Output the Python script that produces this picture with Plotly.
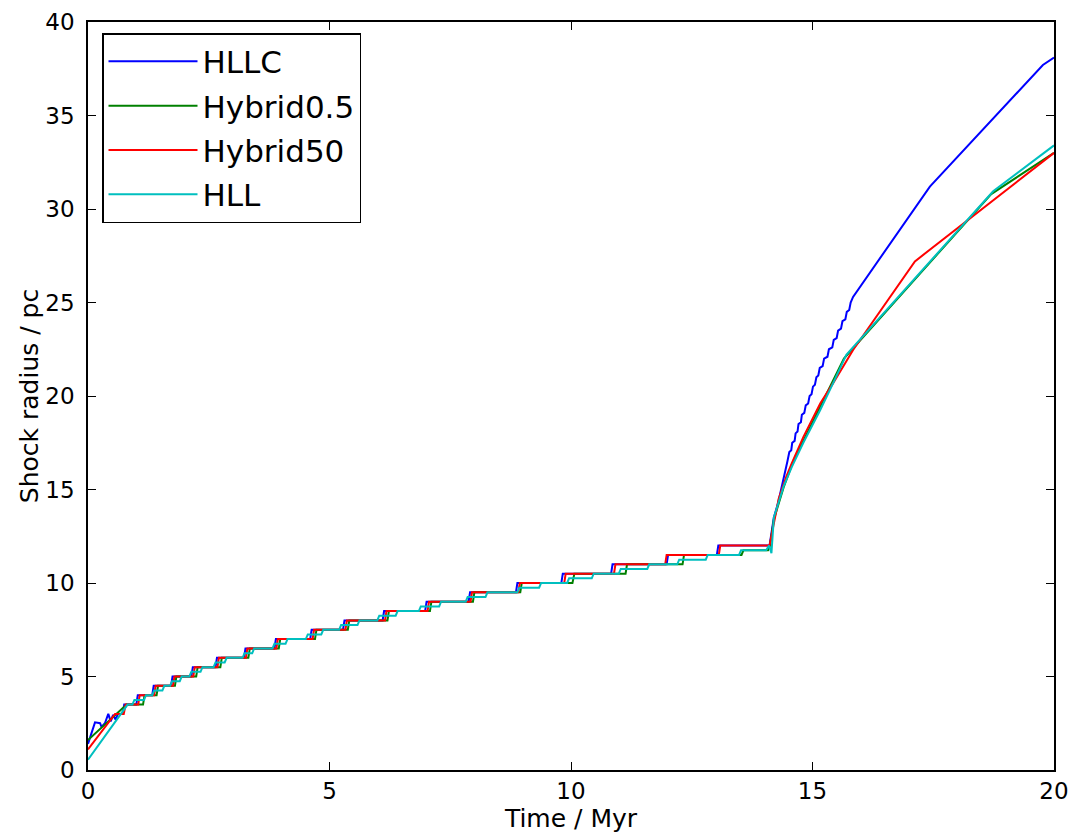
import plotly.graph_objects as go

# ---------------- data (vertices) ----------------
hllc_t = [0.0, 0.145, 0.25, 0.28, 0.35, 0.42, 0.47, 0.52, 0.57, 0.62, 0.72, 0.75,
          1.00, 1.03, 1.33, 1.36, 1.72, 1.75, 2.14, 2.17, 2.64, 2.67, 3.23, 3.26,
          3.86, 3.89, 4.60, 4.63, 5.28, 5.31, 6.10, 6.13, 6.98, 7.01, 7.88, 7.91,
          8.86, 8.89, 9.80, 9.83, 10.83, 10.86, 11.98, 12.01, 13.02, 13.05,
          14.11, 14.20, 14.29, 14.40, 14.44, 14.48, 14.52, 14.56, 14.58, 14.63,
          14.65, 14.69, 14.71, 14.76, 14.78, 14.83, 14.86, 14.91, 14.94, 14.98,
          15.01, 15.05, 15.08, 15.12, 15.15, 15.21, 15.24, 15.31, 15.34, 15.41,
          15.44, 15.50, 15.53, 15.59, 15.62, 15.68, 15.71, 15.76, 15.79, 15.84,
          17.43, 19.77, 20.0]
hllc_r = [1.4, 2.55, 2.5, 2.3, 2.5, 3.0, 2.6, 2.95, 2.7, 3.0, 3.0, 3.5,
          3.5, 4.0, 4.0, 4.5, 4.5, 5.0, 5.0, 5.5, 5.5, 6.0, 6.0, 6.5,
          6.5, 7.0, 7.0, 7.5, 7.5, 8.0, 8.0, 8.5, 8.5, 9.0, 9.0, 9.5,
          9.5, 10.0, 10.0, 10.5, 10.5, 11.0, 11.0, 11.5, 11.5, 12.0,
          12.0, 13.5, 14.3, 15.5, 16.0, 16.5, 17.0, 17.1, 17.5, 17.6,
          18.0, 18.1, 18.5, 18.6, 19.0, 19.1, 19.5, 19.6, 20.0, 20.1,
          20.5, 20.6, 21.0, 21.1, 21.5, 21.6, 22.0, 22.1, 22.5, 22.6,
          23.0, 23.1, 23.5, 23.6, 24.0, 24.1, 24.5, 24.6, 25.0, 25.3,
          31.2, 37.7, 38.1]

hyb05_t = [0.0, 0.80, 1.14, 1.17, 1.42, 1.45, 1.80, 1.83, 2.24, 2.27, 2.74, 2.77,
           3.32, 3.35, 3.95, 3.98, 4.70, 4.73, 5.38, 5.41, 6.20, 6.23, 7.08, 7.11,
           7.97, 8.00, 8.95, 8.98, 10.03, 10.07, 11.13, 11.16, 12.31, 12.34,
           13.53, 13.57, 14.08, 14.12, 14.20, 14.40, 14.60, 14.85, 15.16, 15.43,
           15.65, 18.70, 20.0]
hyb05_r = [1.6, 3.5, 3.5, 4.0, 4.0, 4.5, 4.5, 5.0, 5.0, 5.5, 5.5, 6.0,
           6.0, 6.5, 6.5, 7.0, 7.0, 7.5, 7.5, 8.0, 8.0, 8.5, 8.5, 9.0,
           9.0, 9.5, 9.5, 10.0, 10.0, 10.5, 10.5, 11.0, 11.0, 11.5,
           11.5, 11.75, 11.75, 12.0, 13.4, 15.1, 16.5, 17.8, 19.4, 20.8,
           22.0, 30.8, 33.0]

hyb50_t = [0.0, 0.56, 0.74, 0.78, 1.04, 1.07, 1.37, 1.40, 1.76, 1.79, 2.18, 2.21,
           2.68, 2.71, 3.27, 3.30, 3.90, 3.93, 4.65, 4.68, 5.33, 5.36, 6.15, 6.18,
           7.03, 7.06, 7.92, 7.95, 8.91, 8.94, 9.86, 9.89, 10.89, 10.92,
           11.95, 11.98, 13.06, 13.09, 14.11, 14.19, 14.30, 14.46, 14.57, 14.81,
           15.16, 15.43, 15.84, 17.12, 20.0]
hyb50_r = [1.1, 3.0, 3.0, 3.5, 3.5, 4.0, 4.0, 4.5, 4.5, 5.0, 5.0, 5.5,
           5.5, 6.0, 6.0, 6.5, 6.5, 7.0, 7.0, 7.5, 7.5, 8.0, 8.0, 8.5,
           8.5, 9.0, 9.0, 9.5, 9.5, 10.0, 10.0, 10.5, 10.5, 11.0,
           11.0, 11.5, 11.5, 12.0, 12.0, 13.0, 14.5, 15.7, 16.4, 17.8,
           19.6, 20.7, 22.46, 27.2, 33.0]

hll_t = [0.0, 0.82, 0.92, 0.96, 1.16, 1.20, 1.33, 1.37, 1.54, 1.58, 1.70, 1.74,
         1.90, 1.94, 2.10, 2.14, 2.33, 2.37, 2.60, 2.64, 2.83, 2.87, 3.20, 3.24,
         3.40, 3.44, 3.82, 3.86, 4.09, 4.13, 4.51, 4.55, 4.83, 4.87, 5.20, 5.24,
         5.58, 5.62, 5.99, 6.03, 6.37, 6.41, 6.85, 6.89, 7.27, 7.31, 7.82, 7.86,
         8.23, 8.27, 8.89, 8.93, 9.34, 9.38, 9.92, 9.96, 10.43, 10.47, 10.99, 11.03,
         11.58, 11.62, 12.20, 12.24, 12.79, 12.83, 13.48, 13.52, 14.04, 14.10,
         14.15, 14.20, 14.40, 14.57, 14.81, 15.16, 15.43, 15.70, 18.74, 20.0]
hll_r = [0.55, 3.5, 3.5, 3.75, 3.75, 4.0, 4.0, 4.25, 4.25, 4.5, 4.5, 4.75,
         4.75, 5.0, 5.0, 5.25, 5.25, 5.5, 5.5, 5.75, 5.75, 6.0, 6.0, 6.25,
         6.25, 6.5, 6.5, 6.75, 6.75, 7.0, 7.0, 7.25, 7.25, 7.5, 7.5, 7.75,
         7.75, 8.0, 8.0, 8.25, 8.25, 8.5, 8.5, 8.75, 8.75, 9.0, 9.0, 9.25,
         9.25, 9.5, 9.5, 9.75, 9.75, 10.0, 10.0, 10.25, 10.25, 10.5, 10.5, 10.75,
         10.75, 11.0, 11.0, 11.25, 11.25, 11.5, 11.5, 11.75, 11.75, 12.0,
         11.6, 13.5, 15.15, 16.2, 17.5, 19.25, 20.7, 22.2, 30.95, 33.4]

series = [
    ("HLLC", hllc_t, hllc_r, "#0000ff"),
    ("Hybrid0.5", hyb05_t, hyb05_r, "#008000"),
    ("Hybrid50", hyb50_t, hyb50_r, "#ff0000"),
    ("HLL", hll_t, hll_r, "#00bfbf"),
]

x_ticks = [0, 5, 10, 15, 20]
y_ticks = [0, 5, 10, 15, 20, 25, 30, 35, 40]

# ---------------- figure ----------------
fig = go.Figure()
for name, t, r, col in series:
    assert len(t) == len(r), name
    fig.add_trace(go.Scatter(x=t, y=r, mode="lines", name=name, legendgroup=name,
                             line=dict(color=col, width=2)))

font_family = "DejaVu Sans"
axis_common = dict(
    showgrid=False, zeroline=False, showline=True, linecolor="black",
    linewidth=1.5, mirror="ticks", ticks="inside", ticklen=8, tickwidth=1,
    tickcolor="black", automargin=False,
    tickfont=dict(family=font_family, size=23, color="black"),
)
fig.update_xaxes(range=[0, 20], tickvals=x_ticks, ticktext=[str(v) for v in x_ticks],
                 title=dict(text="Time / Myr", font=dict(family=font_family, size=25, color="black"),
                            standoff=2),
                 **axis_common)
fig.update_yaxes(range=[0, 40], tickvals=y_ticks, ticktext=[str(v) for v in y_ticks],
                 ticklabelstandoff=7,
                 title=dict(text="Shock radius / pc", font=dict(family=font_family, size=25, color="black"),
                            standoff=0),
                 **axis_common)

# page body has an 8 px margin, so the figure is 8 px smaller and shifted
fig.update_layout(
    width=1068, height=828,
    margin=dict(l=80, r=22, t=14, b=66),
    plot_bgcolor="white", paper_bgcolor="white",
    legend=dict(x=0.0145, y=0.985, xanchor="left", yanchor="top",
                bgcolor="white", bordercolor="black", borderwidth=1.5,
                font=dict(family=font_family, size=31, color="black"),
                itemwidth=89, tracegroupgap=1),
    showlegend=True,
)

fig.write_html("out.html")
